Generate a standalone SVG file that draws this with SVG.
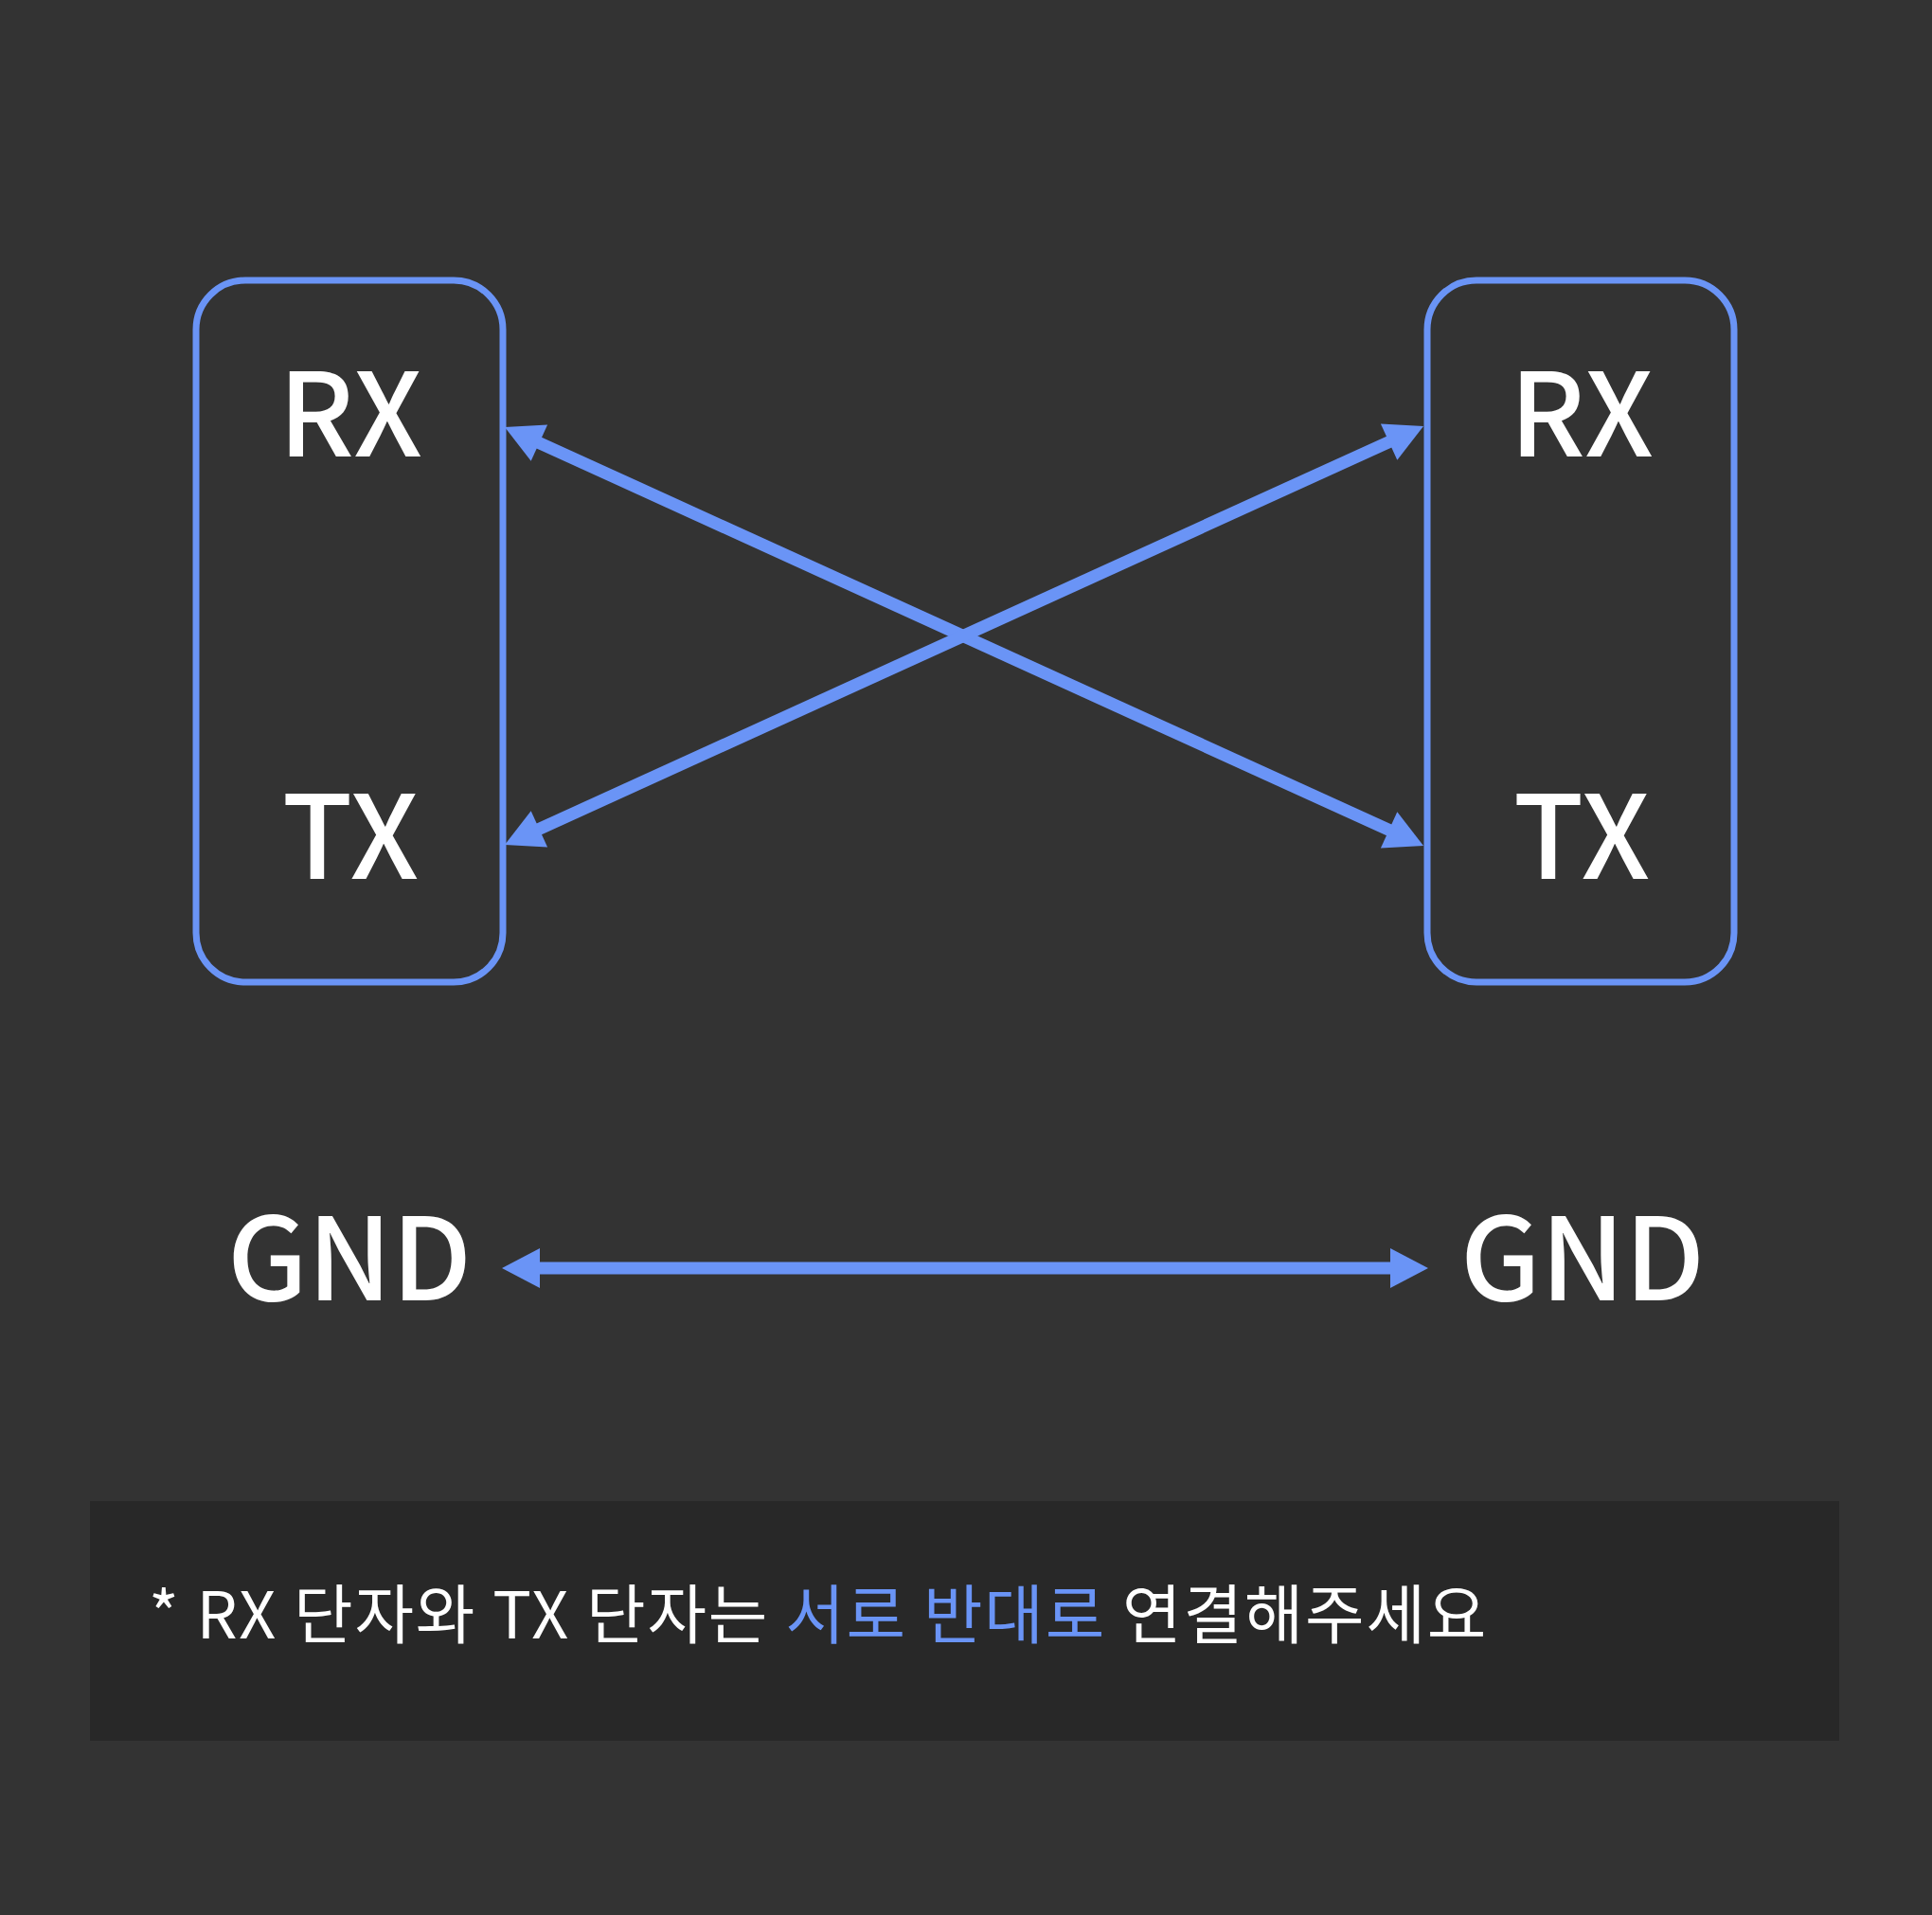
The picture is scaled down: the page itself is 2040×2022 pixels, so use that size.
<svg xmlns="http://www.w3.org/2000/svg" width="2040" height="2022" viewBox="0 0 2040 2022">
<style>
.box{fill:none;stroke:#6A94F6;stroke-width:7}
.lbl{font-family:"Noto Sans CJK KR","Noto Sans",sans-serif;font-weight:500;font-size:122px;fill:#FFFFFF;text-anchor:middle}
.gnd{font-family:"Noto Sans CJK KR","Noto Sans",sans-serif;font-weight:500;font-size:121px;fill:#FFFFFF;text-anchor:middle}
.wire{stroke:#6A94F6;stroke-width:13;fill:none}
.note{font-family:"Noto Sans CJK KR","Noto Sans",sans-serif;font-weight:400;font-size:68px;letter-spacing:1.8px;fill:#FFFFFF}
.hl{fill:#6A94F6}
</style>
<defs>
<marker id="ah" markerUnits="userSpaceOnUse" markerWidth="42" markerHeight="42" viewBox="0 0 40 42" refX="8" refY="21" orient="auto-start-reverse">
<path d="M0,0 L40,21 L0,42 Z" fill="#6A94F6"/>
</marker>
</defs>
<rect x="0" y="0" width="2040" height="2022" fill="#333333"/>
<g id="left-device">
<rect class="box" x="207" y="296" width="324" height="741" rx="52" ry="52"/>
<text class="lbl" x="370" y="482">RX</text>
<text class="lbl" x="370" y="928">TX</text>
</g>
<g id="right-device">
<rect class="box" x="1507" y="296" width="324" height="741" rx="52" ry="52"/>
<text class="lbl" x="1670" y="482">RX</text>
<text class="lbl" x="1670" y="928">TX</text>
</g>
<g id="left-gnd">
<text class="gnd" x="369" y="1373">GND</text>
</g>
<g id="right-gnd">
<text class="gnd" x="1671" y="1373">GND</text>
</g>
<g id="connectors">
<line class="wire" x1="562.1" y1="464.3" x2="1473.9" y2="879.7" marker-start="url(#ah)" marker-end="url(#ah)"/>
<line class="wire" x1="562.1" y1="878.7" x2="1473.9" y2="463.3" marker-start="url(#ah)" marker-end="url(#ah)"/>
<line class="wire" x1="562" y1="1339" x2="1476" y2="1339" stroke-width="14" marker-start="url(#ah)" marker-end="url(#ah)"/>
</g>
<g id="note">
<rect x="95" y="1585" width="1847" height="253" fill="#282828"/>
<text class="note" x="157" y="1730">* RX 단자와 TX 단자는 <tspan class="hl">서로 반대로</tspan> 연결해주세요</text>
</g>
</svg>
